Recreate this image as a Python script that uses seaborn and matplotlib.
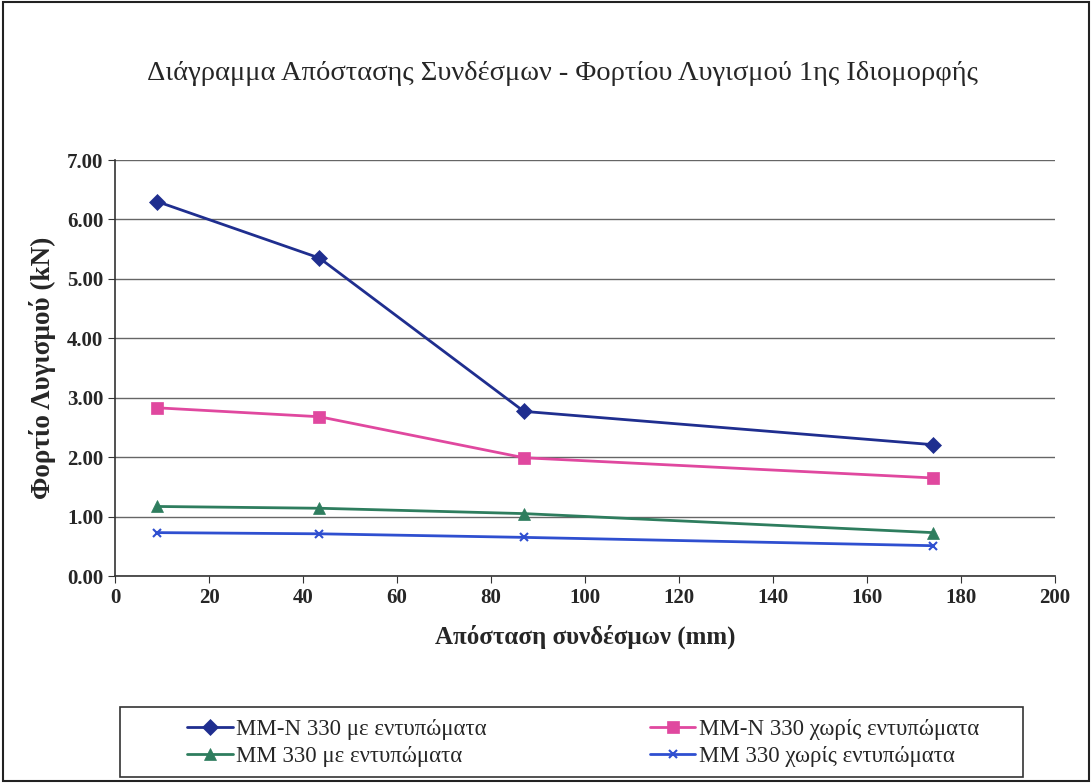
import numpy as np
import pandas as pd
import matplotlib
matplotlib.use('Agg')
import matplotlib.pyplot as plt
import seaborn as sns

x = [9, 43.5, 87, 174]
mmn_me = [6.30, 5.35, 2.77, 2.21]
mmn_xoris = [2.83, 2.68, 1.99, 1.65]
mm_me = [1.17, 1.14, 1.05, 0.73]
mm_xoris = [0.73, 0.71, 0.65, 0.51]

names = ['MM-N 330 με εντυπώματα', 'MM-N 330 χωρίς εντυπώματα',
         'MM 330 με εντυπώματα', 'MM 330 χωρίς εντυπώματα']
series = [mmn_me, mmn_xoris, mm_me, mm_xoris]
colors = ['#1F2E8F', '#E0489F', '#2E7D5E', '#2F4FD0']
markers = ['D', 's', '^', 'x']
sizes = [8, 9, 8, 6]

df = pd.DataFrame({
    'x': np.tile(x, 4),
    'y': np.concatenate(series),
    's': np.repeat(names, 4),
})

sns.set_style('white')
plt.rcParams['font.family'] = ['Liberation Serif', 'DejaVu Serif']

fig = plt.figure(figsize=(10.92, 7.83), dpi=100)
ax = fig.add_axes([115/1092, 1-576/783, (1055-115)/1092, (576-160)/783])

for name, c, m, ms in zip(names, colors, markers, sizes):
    sub = df[df['s'] == name]
    sns.lineplot(data=sub, x='x', y='y', ax=ax, color=c, marker=m,
                 markersize=ms, linewidth=2, label=name,
                 markeredgecolor=c, markeredgewidth=1.5 if m == 'x' else 0.5)

ax.set_xlim(0, 200)
ax.set_ylim(0, 7)
ax.set_xticks(range(0, 201, 20))
ax.set_yticks(np.arange(0, 7.01, 1))
ax.set_yticklabels([f'{v:.2f}' for v in np.arange(0, 7.01, 1)])
ax.tick_params(axis='both', labelsize=15, length=5, direction='out',
               left=True, bottom=True, color='#333333')
for lab in ax.get_xticklabels() + ax.get_yticklabels():
    lab.set_fontweight('bold')
ax.yaxis.grid(True, color='#666666', linewidth=1)
ax.xaxis.grid(False)
for s in ['top', 'right']:
    ax.spines[s].set_visible(False)
for s in ['left', 'bottom']:
    ax.spines[s].set_color('#333333')
    ax.spines[s].set_linewidth(1.2)

ax.set_xlabel('Απόσταση συνδέσμων (mm)', fontsize=18, fontweight='bold', labelpad=12)
ax.set_ylabel('Φορτίο Λυγισμού (kN)', fontsize=19.5, fontweight='bold', labelpad=8)
fig.text(0.515, 1-73/783, 'Διάγραμμα Απόστασης Συνδέσμων - Φορτίου Λυγισμού 1ης Ιδιομορφής',
         ha='center', va='center', fontsize=20.5)

ax.get_legend().remove()
h, l = ax.get_legend_handles_labels()
order = [0, 2, 1, 3]
fig.legend([h[i] for i in order], [l[i] for i in order], loc='upper left',
           bbox_to_anchor=(187/1092, 1-719/783), ncol=2, fontsize=16.5,
           frameon=False, columnspacing=7.1, handlelength=2.0,
           handletextpad=0.15, labelspacing=0.25, borderpad=0, borderaxespad=0)

fig.patches.append(plt.Rectangle((120/1092, 1-777/783), (1023-120)/1092, 70/783,
                                 transform=fig.transFigure, fill=False,
                                 edgecolor='#333333', linewidth=1.2))
fig.patches.append(plt.Rectangle((0.003, 0.003), 0.994, 0.994, transform=fig.transFigure,
                                 fill=False, edgecolor='#222222', linewidth=1.5))

fig.savefig('out.png', dpi=100)
